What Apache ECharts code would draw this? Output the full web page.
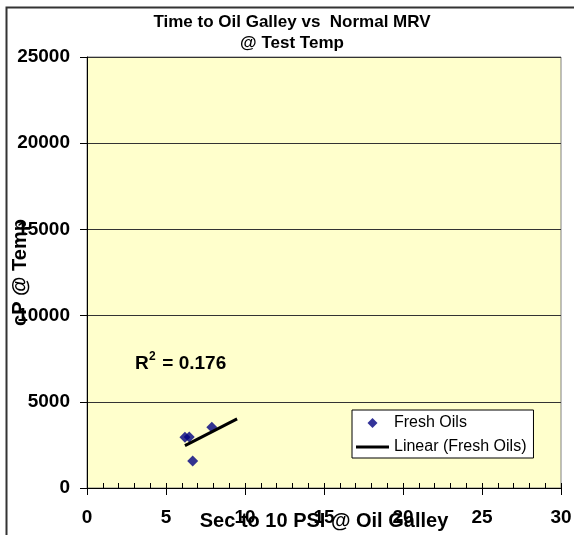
<!DOCTYPE html>
<html>
<head>
<meta charset="utf-8">
<script src="https://cdn.jsdelivr.net/npm/echarts@6/dist/echarts.min.js"></script>
<style>
html,body{margin:0;padding:0;background:#fff;}
#chart{width:574px;height:535px;}
</style>
</head>
<body>
<div id="chart"></div>
<script>
// ---- data ----
const chartTitle = 'Time to Oil Galley vs  Normal MRV\n@ Test Temp';
const xAxisTitle = 'Sec to 10 PSI @ Oil Galley';
const yAxisTitle = 'cP @ Temp';
const seriesName = 'Fresh Oils';
const trendName = 'Linear (Fresh Oils)';
const secToPsi = [6.2, 6.47, 7.9, 6.69];
const cpAtTemp = [2940, 2960, 3520, 1566];
const rSquaredText = '0.176';
const trendForwardForecast = 1.6;
const xTicks = [0, 5, 10, 15, 20, 25, 30];
const yTicks = [0, 5000, 10000, 15000, 20000, 25000];

// linear regression for trendline
const n = secToPsi.length;
const mx = secToPsi.reduce((a, b) => a + b, 0) / n;
const my = cpAtTemp.reduce((a, b) => a + b, 0) / n;
let sxy = 0, sxx = 0;
for (let i = 0; i < n; i++) { sxy += (secToPsi[i] - mx) * (cpAtTemp[i] - my); sxx += (secToPsi[i] - mx) ** 2; }
const slope = sxy / sxx, intercept = my - slope * mx;
const tx0 = Math.min(...secToPsi), tx1 = Math.max(...secToPsi) + trendForwardForecast;
const trendData = [[tx0, intercept + slope * tx0], [tx1, intercept + slope * tx1]];

const FONT = "'Liberation Sans', Arial, sans-serif";
const chart = echarts.init(document.getElementById('chart'), null, {renderer: 'canvas'});
chart.setOption({
  animation: false,
  backgroundColor: '#ffffff',
  title: {
    text: chartTitle,
    left: 287, top: 7, textAlign: 'center',
    textStyle: {fontFamily: FONT, fontWeight: 'bold', fontSize: 17, color: '#000', lineHeight: 21}
  },
  grid: {
    left: 87, right: 13, top: 57, bottom: 47,
    containLabel: false, outerBoundsMode: 'none',
    show: true, backgroundColor: '#FFFFCC', borderColor: '#808080', borderWidth: 1
  },
  legend: {
    orient: 'vertical',
    left: 352, top: 410,
    padding: [5, 7, 3, 4],
    itemGap: 8, itemWidth: 33, itemHeight: 10,
    backgroundColor: '#ffffff', borderColor: '#000', borderWidth: 1,
    textStyle: {fontFamily: FONT, fontSize: 16, color: '#000'},
    data: [
      {name: seriesName, icon: 'path://M5,0L10,5L5,10L0,5Z', itemStyle: {color: '#000080'}},
      {name: trendName, icon: 'path://M0,0L33,0L33,3L0,3Z', itemStyle: {color: '#000'}}
    ]
  },
  xAxis: [{
    type: 'value', min: xTicks[0], max: xTicks[xTicks.length - 1], interval: 5,
    position: 'bottom',
    name: xAxisTitle, nameLocation: 'middle', nameGap: 23, nameMoveOverlap: false,
    nameTextStyle: {fontFamily: FONT, fontWeight: 'bold', fontSize: 20, color: '#000'},
    axisLine: {show: true, lineStyle: {color: '#000', width: 1}},
    axisTick: {show: true, inside: false, length: 7, lineStyle: {color: '#000'}},
    axisLabel: {margin: 20, fontFamily: FONT, fontWeight: 'bold', fontSize: 19, color: '#000'},
    splitLine: {show: false}
  }, {
    type: 'value', min: xTicks[0], max: xTicks[xTicks.length - 1], interval: 1,
    position: 'bottom', gridIndex: 0,
    axisLine: {show: false},
    axisTick: {show: true, inside: true, length: 5, lineStyle: {color: '#000'}},
    axisLabel: {show: false},
    splitLine: {show: false}
  }],
  yAxis: {
    type: 'value', min: yTicks[0], max: yTicks[yTicks.length - 1], interval: 5000,
    name: yAxisTitle, nameLocation: 'middle', nameGap: 57, nameMoveOverlap: false,
    nameTextStyle: {fontFamily: FONT, fontWeight: 'bold', fontSize: 20, color: '#000'},
    axisLine: {show: true, lineStyle: {color: '#000', width: 1}},
    axisTick: {show: true, inside: false, length: 7, lineStyle: {color: '#000'}},
    axisLabel: {margin: 17, fontFamily: FONT, fontWeight: 'bold', fontSize: 19, color: '#000',
      formatter: v => String(v)},
    splitLine: {show: true, lineStyle: {color: '#333333', width: 1}}
  },
  series: [{
    name: seriesName, type: 'scatter', symbol: 'diamond', symbolSize: 11,
    itemStyle: {color: '#000080'},
    data: secToPsi.map((x, i) => [x, cpAtTemp[i]]),
    z: 3
  }, {
    name: trendName, type: 'line', showSymbol: false, symbol: 'none',
    lineStyle: {color: '#000', width: 3},
    itemStyle: {color: '#000'},
    data: trendData,
    z: 4
  }],
  graphic: [{
    type: 'rect', left: 4, top: 5, silent: true,
    shape: {x: 0, y: 0, width: 580, height: 540},
    style: {fill: 'none', stroke: '#333333', lineWidth: 2}
  }, {
    type: 'group', left: 135, top: 351, z: 10,
    children: [
      {type: 'text', x: 0, y: 0, style: {text: 'R', fontFamily: FONT, fontWeight: 'bold', fontSize: 19, fill: '#000'}},
      {type: 'text', x: 14, y: -3, style: {text: '2', fontFamily: FONT, fontWeight: 'bold', fontSize: 12, fill: '#000'}},
      {type: 'text', x: 22, y: 0, style: {text: ' = ' + rSquaredText, fontFamily: FONT, fontWeight: 'bold', fontSize: 19, fill: '#000'}}
    ]
  }]
});
</script>
</body>
</html>
